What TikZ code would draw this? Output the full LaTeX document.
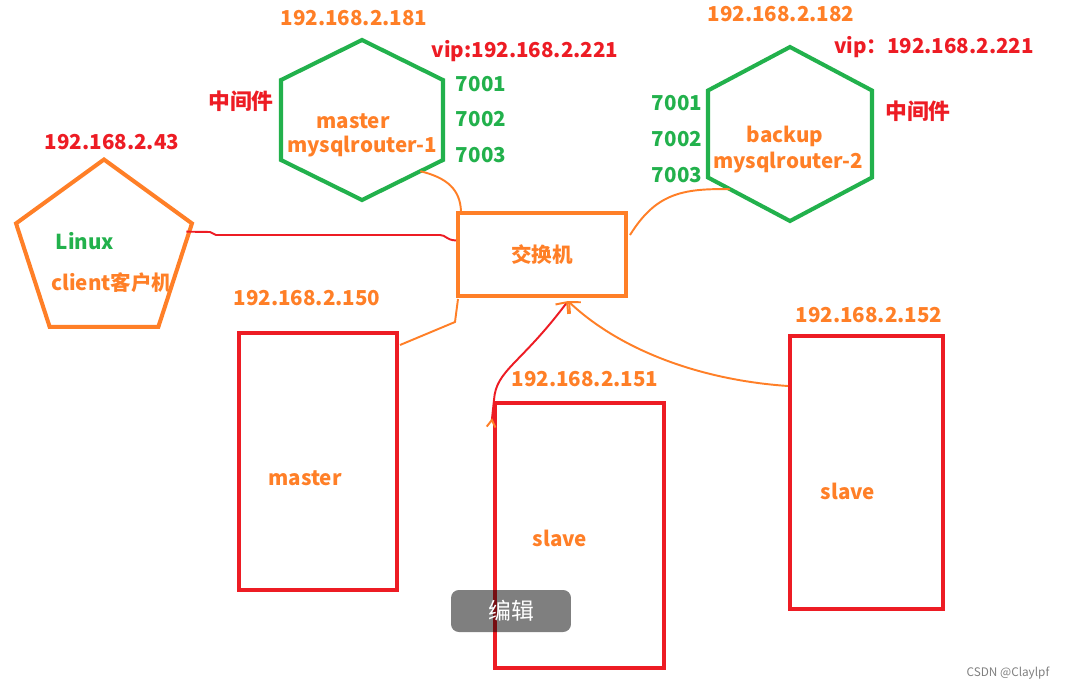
\documentclass[tikz,border=0pt]{standalone}
\usepackage{fontspec}
\setmainfont{Noto Sans CJK SC}
\usetikzlibrary{arrows.meta,positioning,shapes.geometric,calc}
\definecolor{paintorange}{RGB}{255,127,39}
\definecolor{paintred}{RGB}{237,28,36}
\definecolor{paintgreen}{RGB}{34,177,76}

\tikzset{
  txt/.style={font=\fontsize{11.7}{14}\selectfont\bfseries},
  cjk/.style={font=\fontsize{12.4}{14}\selectfont\bfseries},
  orlbl/.style={txt, text=paintorange},
  redlbl/.style={txt, text=paintred},
  greenlbl/.style={txt, text=paintgreen},
  hexline/.style={draw=paintgreen, line width=2.3pt},
  rbox/.style={draw=paintred, line width=2.3pt},
  obox/.style={draw=paintorange, line width=2.3pt},
  orangeline/.style={draw=paintorange, line width=1.1pt},
  redthin/.style={draw=paintred, line width=1.1pt},
}

\begin{document}
\begin{tikzpicture}[x=0.02cm, y=-0.02cm, every node/.style={inner sep=0pt}]
  \useasboundingbox[fill=white] (0,0) rectangle (1066,690);

  % client
  \node[obox, regular polygon, regular polygon sides=5, minimum size=3.7cm] (client) at (104,252) {};
  \node[redlbl] (ip43) at (112,142) {192.168.2.43};
  \node[greenlbl] (os) at (85,241) {Linux};
  \node[orlbl] (cli) at (112,283) {client客户机};

  % routers
  \foreach \n/\cx/\cy/\hw/\hh/\ps/\pw in {r1/362/120/81/80/.28/.5, r2/790/134/82/87/.5/.73}
    \draw[hexline] (\cx,\cy-\hh) -- (\cx+\hw,\cy-\hh/2) -- (\cx+\hw,\cy+\hh/2)
      -- coordinate[pos=\ps] (\n-se) (\cx,\cy+\hh)
      -- coordinate[pos=\pw] (\n-sw) (\cx-\hw,\cy+\hh/2) -- (\cx-\hw,\cy-\hh/2) -- cycle;

  \node[orlbl] (ip181) at (354,18) {192.168.2.181};
  \node[redlbl] (vip1) at (525,51) {vip:192.168.2.221};
  \node[redlbl, cjk] (mid1) at (241,101) {中间件};
  \node[orlbl] (role1) at (353,121) {master};
  \node[orlbl] (name1) at (362,147) {mysqlrouter-1};
  \foreach \p/\y in {7001/84, 7002/119, 7003/155}
    \node[greenlbl] (pa\p) at (481,\y) {\p};

  \node[orlbl] (ip182) at (781,14) {192.168.2.182};
  \node[redlbl] (vip2) at (934,47) {vip：192.168.2.221};
  \node[redlbl, cjk] (mid2) at (918,111) {中间件};
  \node[orlbl] (role2) at (785,136) {backup};
  \node[orlbl] (name2) at (788,163) {mysqlrouter-2};
  \foreach \p/\y in {7001/103, 7002/139, 7003/175}
    \node[greenlbl] (pb\p) at (677,\y) {\p};

  % switch
  \node[obox, minimum width=3.36cm, minimum height=1.66cm, orlbl] (sw) at (542,254.5) {交换机};

  % databases
  \node[rbox, minimum width=3.16cm, minimum height=5.14cm] (m150) at (318,461.5) {};
  \node[rbox, minimum width=3.38cm, minimum height=5.3cm] (s151) at (579.5,535.5) {};
  \node[rbox, minimum width=3.06cm, minimum height=5.46cm] (s152) at (866.5,472.5) {};
  \node[orlbl] (ip150) at (307,298) {192.168.2.150};
  \node[orlbl] (ip151) at (585,379) {192.168.2.151};
  \node[orlbl] (ip152) at (869,315) {192.168.2.152};
  \node[orlbl] (db150) at (305,478) {master};
  \node[orlbl] (db151) at (560,538) {slave};
  \node[orlbl] (db152) at (848,491) {slave};

  % links
  \draw[redthin] ($(client.corner 5)+(-8,9)$) -- (210,232) -- (216,235) -- (440,235)
    .. controls (446,235) and (446,240) .. ($(sw.west)+(0,-14)$);
  \draw[orangeline] (r1-se) .. controls (448,178) and (460,190) .. ($(sw.north west)+(5,0)$);
  \draw[orangeline] (r2-sw) .. controls (680,188) and (655,195) .. ($(sw.north east)+(2,24)$);
  \draw[orangeline] ($(m150.north east)+(1,14)$) -- (455,322) -- ($(sw.south west)+(2,1)$);
  \draw[orangeline, -{Straight Barb[length=5pt,width=9pt]}] ($(s152.north west)+(0,52)$)
    .. controls (700,380) and (620,350) .. ($(sw.south)+(26,3)$);
  \draw[redthin, {Straight Barb[paintorange,reversed,length=4pt,width=5pt]}-{Straight Barb[paintorange,length=5pt,width=9pt]}]
    ($(s151.north west)+(-2,27)$) -- (494,400) .. controls (496,370) and (520,365) .. ($(sw.south)+(26,3)$);

  % overlay
  \node[fill=black, fill opacity=0.5, text opacity=1, text=white, rounded corners=4.5pt,
    minimum width=2.4cm, minimum height=0.84cm, font=\fontsize{13}{15}\selectfont] (edit) at (511,611) {编辑};
  \node[text=gray, font=\fontsize{6.7}{8}\selectfont] (csdn) at (1008,673) {CSDN @Claylpf};
\end{tikzpicture}
\end{document}
